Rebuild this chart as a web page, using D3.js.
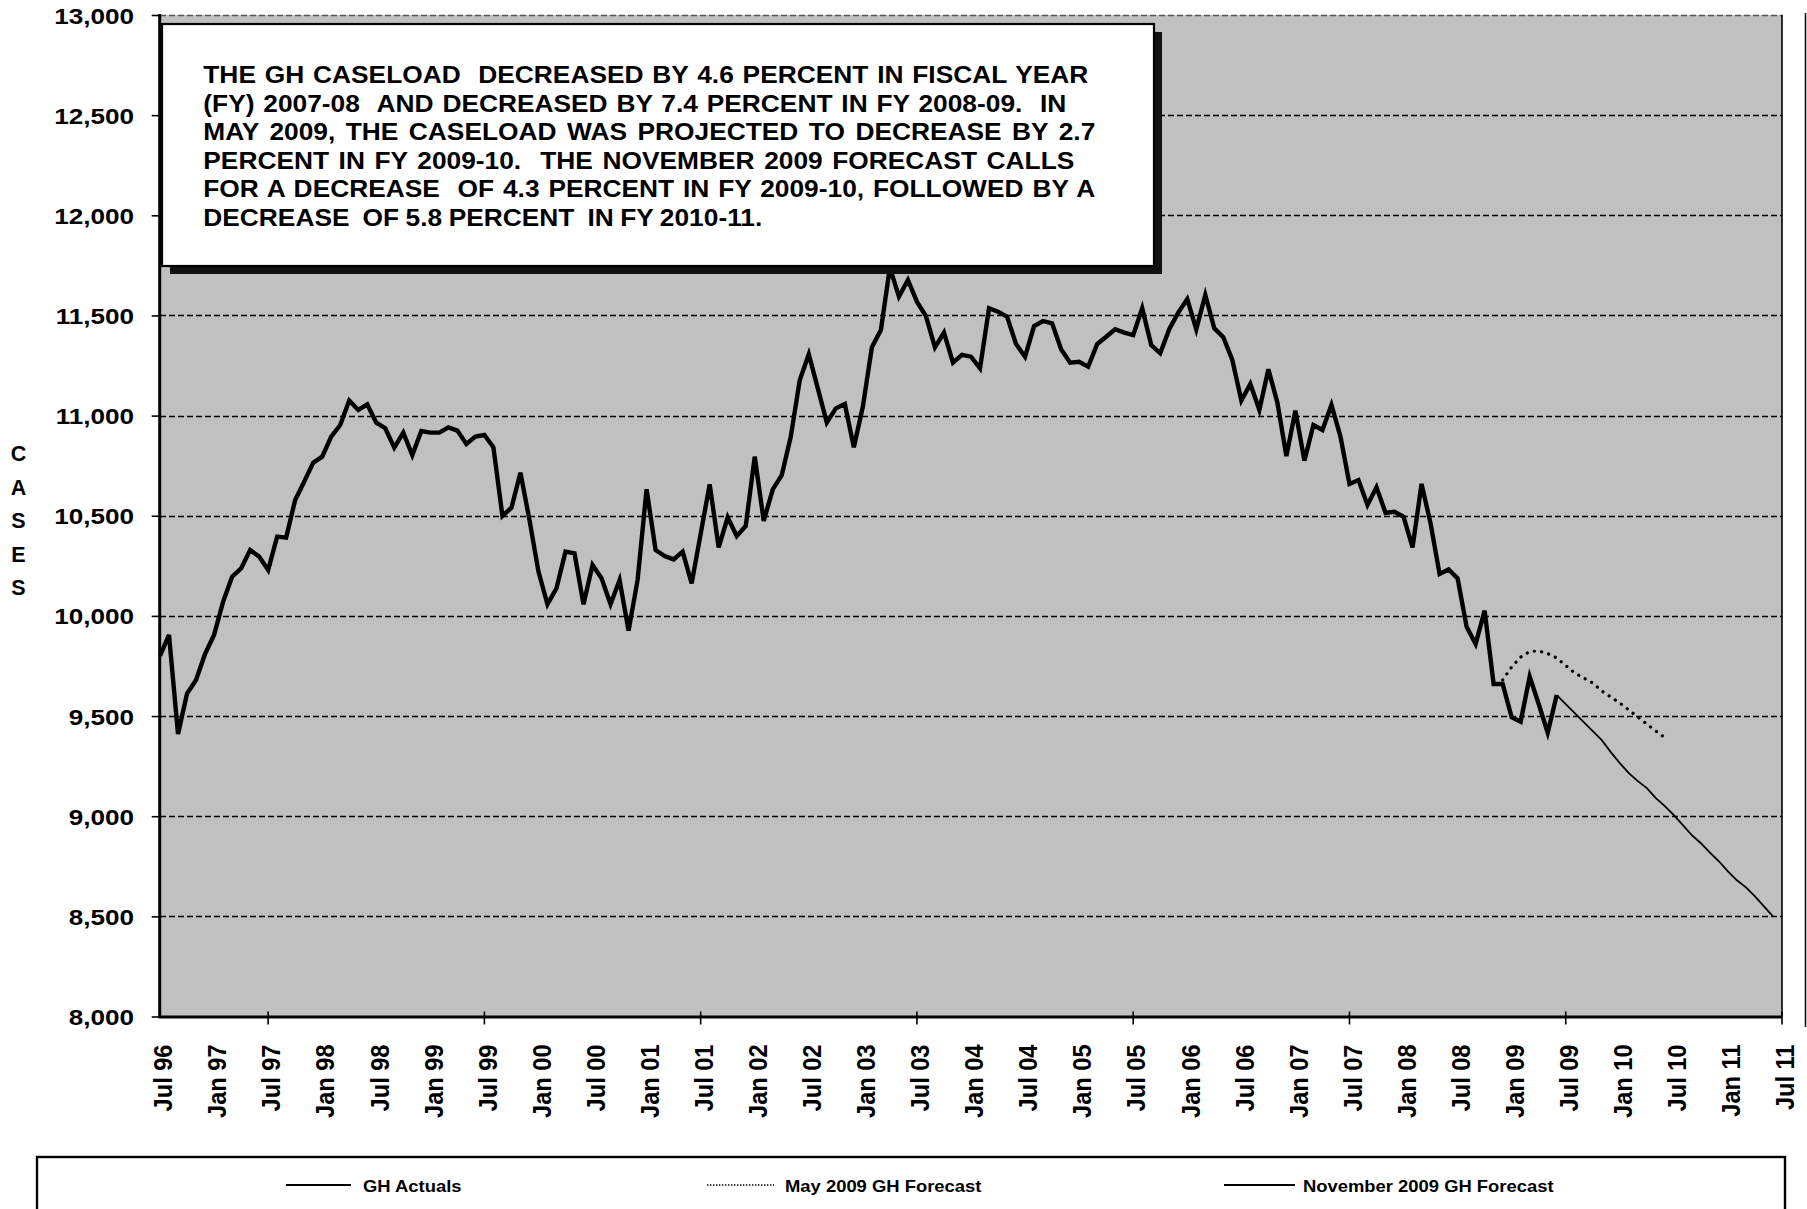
<!DOCTYPE html>
<html><head><meta charset="utf-8">
<script src="https://cdn.jsdelivr.net/npm/d3@7"></script>
<style>
html,body{margin:0;padding:0;background:#fff;}
svg{display:block;font-family:"Liberation Sans",Arial,sans-serif;font-weight:bold;}
</style></head>
<body><svg id="c" width="1807" height="1209"></svg>
<script>
// ---- DATA ----
// month index 0 = Jul 1996, 180 = Jul 2011
const xLabels = [];
const labelYears = ["96","97","97","98","98","99","99","00","00","01","01","02","02","03","03","04","04","05","05","06","06","07","07","08","08","09","09","10","10","11","11"];
const labelMonths = ["Jul","Jan"];
const actuals = [9800,9905,9410,9612,9680,9810,9905,10070,10196,10237,10329,10296,10229,10396,10391,10579,10670,10765,10795,10895,10953,11075,11028,11056,10965,10937,10840,10915,10803,10923,10915,10915,10941,10925,10858,10895,10903,10842,10499,10540,10715,10479,10221,10058,10138,10321,10312,10058,10254,10188,10058,10179,9926,10179,10632,10329,10299,10282,10321,10162,10410,10657,10342,10492,10399,10449,10795,10474,10632,10703,10895,11178,11306,11136,10965,11036,11058,10842,11045,11341,11427,11740,11594,11677,11569,11497,11341,11414,11264,11303,11294,11236,11536,11519,11494,11357,11294,11447,11472,11461,11331,11264,11269,11244,11357,11394,11431,11414,11402,11536,11352,11311,11431,11514,11582,11431,11602,11436,11391,11278,11075,11158,11028,11231,11065,10798,11025,10775,10953,10928,11053,10895,10659,10678,10554,10642,10515,10520,10495,10342,10659,10462,10209,10232,10187,9946,9860,10026,9660,9660,9494,9472,9697,9560,9417,9605];
const mayStart = 149; // Mar 2009
const mayForecast = [9680,9745,9795,9822,9825,9812,9790,9752,9715,9690,9665,9625,9595,9565,9530,9495,9460,9425,9392];
const novStart = 155; // Jun 2009
const novForecast = [9605,9560,9515,9470,9425,9380,9320,9265,9215,9175,9140,9090,9050,9005,8955,8905,8865,8818,8775,8725,8680,8645,8600,8550,8500];
const yTicks = [8000,8500,9000,9500,10000,10500,11000,11500,12000,12500,13000];
const xTickMarks = [12,36,60,84,108,132,156,180];
const noteLines = [
 "THE GH CASELOAD  DECREASED BY 4.6 PERCENT IN FISCAL YEAR",
 "(FY) 2007-08  AND DECREASED BY 7.4 PERCENT IN FY 2008-09.  IN",
 "MAY 2009, THE CASELOAD WAS PROJECTED TO DECREASE BY 2.7",
 "PERCENT IN FY 2009-10.  THE NOVEMBER 2009 FORECAST CALLS",
 "FOR A DECREASE  OF 4.3 PERCENT IN FY 2009-10, FOLLOWED BY A",
 "DECREASE  OF 5.8 PERCENT  IN FY 2010-11."
];
const noteWidths = [885,863,892,871,892,559];
const legendItems = ["GH Actuals","May 2009 GH Forecast","November 2009 GH Forecast"];
const axisTitle = ["C","A","S","E","S"];
for (let k = 0; k < labelYears.length; k++) xLabels.push({m: k*6, t: labelMonths[k%2] + " " + labelYears[k]});

// ---- LAYOUT ----
const L = 160, R = 1782, T = 15, B = 1016.5;
const svg = d3.select("#c");
const x = d3.scaleLinear().domain([0,180]).range([L,R]);
const y = d3.scaleLinear().domain([8000,13000]).range([B,T]);

svg.append("rect").attr("x",L).attr("y",T).attr("width",R-L).attr("height",B-T).attr("fill","#C0C0C0");

// gridlines
svg.append("g").selectAll("line").data(yTicks.filter(v=>v>8000)).join("line")
  .attr("x1",L).attr("x2",R).attr("y1",d=>Math.round(y(d))+0.5).attr("y2",d=>Math.round(y(d))+0.5)
  .attr("stroke",d=>d===13000?"#555":"#000").attr("stroke-width",1.4).attr("stroke-dasharray","6,3");

// right border of plot
svg.append("line").attr("x1",R).attr("x2",R).attr("y1",T).attr("y2",B).attr("stroke","#000").attr("stroke-width",1.6);
// chart outer border (right side)
svg.append("line").attr("x1",1805.5).attr("x2",1805.5).attr("y1",13).attr("y2",1027).attr("stroke","#000").attr("stroke-width",1.5);

// series
const lineGen = (start) => d3.line().x((d,i)=>x(start+i)).y(d=>y(d));
svg.append("path").datum(mayForecast).attr("d",lineGen(mayStart))
  .attr("fill","none").attr("stroke","#000").attr("stroke-width",3.2)
  .attr("stroke-linecap","round").attr("stroke-dasharray","0.1,7.3");
svg.append("path").datum(novForecast).attr("d",lineGen(novStart))
  .attr("fill","none").attr("stroke","#000").attr("stroke-width",1.8);
svg.append("path").datum(actuals).attr("d",lineGen(0))
  .attr("fill","none").attr("stroke","#000").attr("stroke-width",4.4).attr("stroke-linejoin","miter");

// y axis
const yAxis = svg.append("g").attr("transform",`translate(${L-0.3},0)`)
  .call(d3.axisLeft(y).tickValues(yTicks).tickSize(8).tickFormat(d3.format(",")));
yAxis.select(".domain").remove();
yAxis.selectAll(".tick line").attr("stroke","#000").attr("stroke-width",1.6);
yAxis.selectAll(".tick text").attr("x",0).attr("dy",0)
  .attr("transform","translate(-25.7,8) scale(1.17,1)")
  .attr("font-size",22.3).attr("font-weight","bold").attr("fill","#000")
  .attr("font-family","'Liberation Sans',Arial,sans-serif").attr("text-anchor","end");
svg.append("line").attr("x1",L-0.3).attr("x2",L-0.3).attr("y1",T-1).attr("y2",B+1.5).attr("stroke","#000").attr("stroke-width",3);

// x axis
const xAxis = svg.append("g").attr("transform",`translate(0,${B+0.5})`)
  .call(d3.axisBottom(x).tickValues(xLabels.map(d=>d.m)).tickSize(0)
    .tickFormat((d)=>xLabels.find(e=>e.m===d).t));
xAxis.select(".domain").remove();
xAxis.selectAll(".tick text").attr("x",0).attr("y",0).attr("dy","0.36em")
  .attr("transform","translate(2.5,27.5) scale(1.09,1) rotate(-90)")
  .attr("text-anchor","end").attr("font-size",23.6).attr("font-weight","bold").attr("fill","#000")
  .attr("font-family","'Liberation Sans',Arial,sans-serif");
svg.append("line").attr("x1",L-1.5).attr("x2",R).attr("y1",B+0.5).attr("y2",B+0.5).attr("stroke","#000").attr("stroke-width",2.8);
svg.append("g").selectAll("line").data(xTickMarks).join("line")
  .attr("x1",d=>x(d)).attr("x2",d=>x(d)).attr("y1",B-5).attr("y2",B+8)
  .attr("stroke","#000").attr("stroke-width",1.6);

// axis title CASES
svg.append("g").selectAll("text").data(axisTitle).join("text")
  .attr("x",18.5).attr("y",(d,i)=>453+i*33.5+8).attr("text-anchor","middle")
  .attr("font-size",21.5).attr("fill","#000").text(d=>d);

// note box
svg.append("rect").attr("x",170).attr("y",32).attr("width",992).attr("height",242).attr("fill","#111");
svg.append("rect").attr("x",162).attr("y",24).attr("width",992).attr("height",242)
  .attr("fill","#fff").attr("stroke","#000").attr("stroke-width",2.2);
const sxNote = 1.07;
const noteG = svg.append("g");
noteLines.forEach((t,k)=>{
  const tx = noteG.append("text").attr("transform",`translate(203.3,${83.3+k*28.5}) scale(${sxNote},1)`)
    .attr("font-size",24.6).attr("fill","#000").style("white-space","pre").text(t);
  const nat = tx.node().getComputedTextLength();
  const spaces = (t.match(/ /g)||[]).length;
  const ws = (noteWidths[k]/sxNote - nat)/spaces;
  tx.attr("word-spacing",ws.toFixed(2));
});

// legend
svg.append("rect").attr("x",37).attr("y",1157).attr("width",1748).attr("height",80)
  .attr("fill","#fff").attr("stroke","#000").attr("stroke-width",2.4);
const legX = [[286,351,363],[707,774,785],[1224,1295,1303]];
const lg = svg.append("g");
legendItems.forEach((t,k)=>{
  const ln = lg.append("line").attr("x1",legX[k][0]).attr("x2",legX[k][1]).attr("y1",1185).attr("y2",1185)
    .attr("stroke","#000").attr("stroke-width",k===1?1.4:2);
  if (k===1) ln.attr("stroke-dasharray","1.4,1.6");
  lg.append("text").attr("transform",`translate(${legX[k][2]},1191.7) scale(1.13,1)`)
    .attr("font-size",16.3).attr("fill","#000").text(t);
});
</script>
</body></html>
